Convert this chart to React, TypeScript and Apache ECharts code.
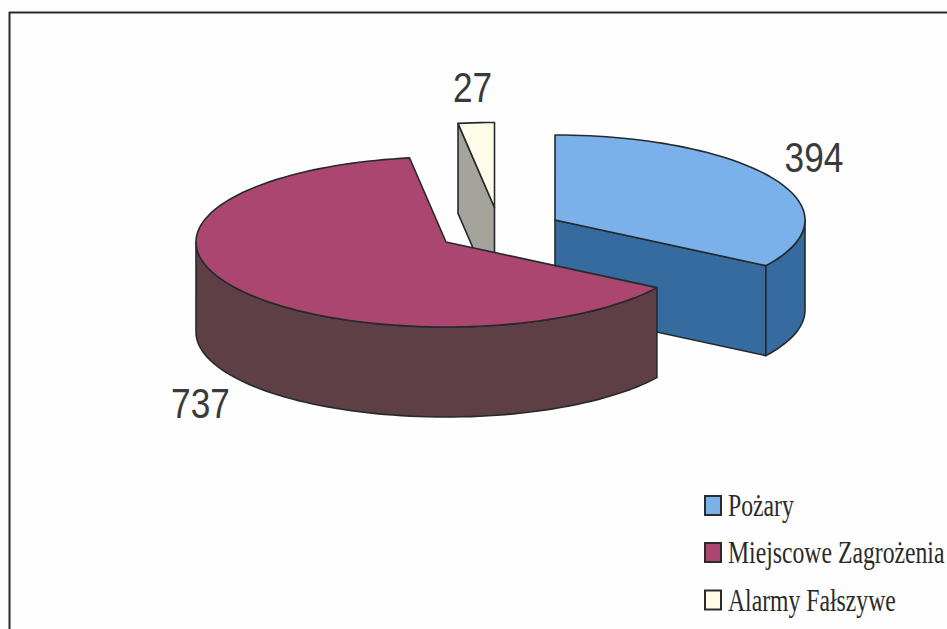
import React, { useEffect, useRef } from "react";
import * as echarts from "echarts";

const categories = ["Pożary", "Miejscowe Zagrożenia", "Alarmy Fałszywe"];
const values = [394, 737, 27];
const topColors = ["#7ab1ea", "#ab4670", "#fffdea"];
const sideColors = ["#356b9e", "#5e3f46", "#a4a49c"];

const RX = 250;
const RY = 85;
const DEPTH = 90;
const EDGE = "#262a2c";
const INK = "#3a3a3a";

const sliceCentres = [
  [555, 220],
  [446, 242],
  [494.5, 207.5],
];
const labelAnchors = [
  [814, 157],
  [200.5, 403],
  [472.5, 87],
];
const sliceZ = [2, 3, 1];

const total = values.reduce((a, b) => a + b, 0);

function arc(cx: number, cy: number, from: number, to: number): number[][] {
  const pts: number[][] = [];
  const n = Math.max(2, Math.ceil((to - from) / 2));
  for (let i = 0; i <= n; i++) {
    const t = ((from + ((to - from) * i) / n) * Math.PI) / 180;
    pts.push([cx + RX * Math.sin(t), cy - RY * Math.cos(t)]);
  }
  return pts;
}

function renderSlice(params: any, api: any) {
  const idx = params.dataIndex;
  const value = api.value(0);
  let start = 0;
  for (let i = 0; i < idx; i++) start += (values[i] / total) * 360;
  const end = start + (value / total) * 360;
  const [cx, cy] = sliceCentres[idx];
  const z2 = sliceZ[idx] * 10;
  const side = sideColors[idx];
  const shape = { fill: side, stroke: EDGE, lineWidth: 1.6, lineJoin: "round" };
  const children: any[] = [];

  const face = (deg: number) => {
    const p = arc(cx, cy, deg, deg + 0.001)[0];
    children.push({
      type: "polygon",
      z2,
      shape: { points: [[cx, cy], p, [p[0], p[1] + DEPTH], [cx, cy + DEPTH]] },
      style: shape,
    });
  };
  if (-Math.cos(((start - 90) * Math.PI) / 180) > 0.001) face(start);
  if (-Math.cos(((end + 90) * Math.PI) / 180) > 0.001) face(end);

  const rimFrom = Math.max(start, 90);
  const rimTo = Math.min(end, 270);
  if (rimTo > rimFrom) {
    const top = arc(cx, cy, rimFrom, rimTo);
    const bottom = top.map((p) => [p[0], p[1] + DEPTH]).reverse();
    children.push({
      type: "polygon",
      z2: z2 + 1,
      shape: { points: [...top, ...bottom] },
      style: shape,
    });
  }

  children.push({
    type: "polygon",
    z2: z2 + 2,
    shape: { points: [[cx, cy], ...arc(cx, cy, start, end)] },
    style: { fill: topColors[idx], stroke: EDGE, lineWidth: 1.6, lineJoin: "round" },
  });

  const [lx, ly] = labelAnchors[idx];
  children.push({
    type: "text",
    z2: 100,
    x: lx,
    y: ly,
    scaleX: 0.84,
    style: {
      text: String(value),
      x: 0,
      y: 0,
      align: "center",
      verticalAlign: "middle",
      font: "42px 'Liberation Sans'",
      fill: INK,
    },
  });
  return { type: "group", children };
}

const legendY = [505.5, 552.5, 600];

export default function App() {
  const ref = useRef<HTMLDivElement>(null);
  useEffect(() => {
    document.body.style.margin = "0";
    const chart = echarts.init(ref.current!, undefined, { renderer: "svg" });
    chart.setOption({
      animation: false,
      backgroundColor: "#fefefe",
      graphic: [
        { type: "line", shape: { x1: 9, y1: 12.5, x2: 947, y2: 12.5 }, style: { stroke: "#2a2a2a", lineWidth: 2 } },
        { type: "line", shape: { x1: 9.5, y1: 12, x2: 9.5, y2: 629 }, style: { stroke: "#2a2a2a", lineWidth: 2 } },
        ...categories.flatMap((name, i) => [
          {
            type: "rect",
            shape: { x: 705, y: legendY[i] - 9.5, width: 16, height: 19 },
            style: { fill: topColors[i], stroke: "#2b2b2b", lineWidth: 2 },
          },
          {
            type: "text",
            x: 728,
            y: legendY[i],
            scaleX: 0.765,
            style: {
              text: name,
              x: 0,
              y: 0,
              align: "left",
              verticalAlign: "middle",
              font: "31px 'Liberation Serif'",
              fill: "#2a2a2a",
            },
          },
        ]),
      ],
      series: [
        {
          type: "custom",
          coordinateSystem: "none",
          renderItem: renderSlice,
          data: values.map((v, i) => ({ name: categories[i], value: [v] })),
        },
      ],
    });
    return () => chart.dispose();
  }, []);
  return <div ref={ref} style={{ width: 947, height: 629 }} />;
}
